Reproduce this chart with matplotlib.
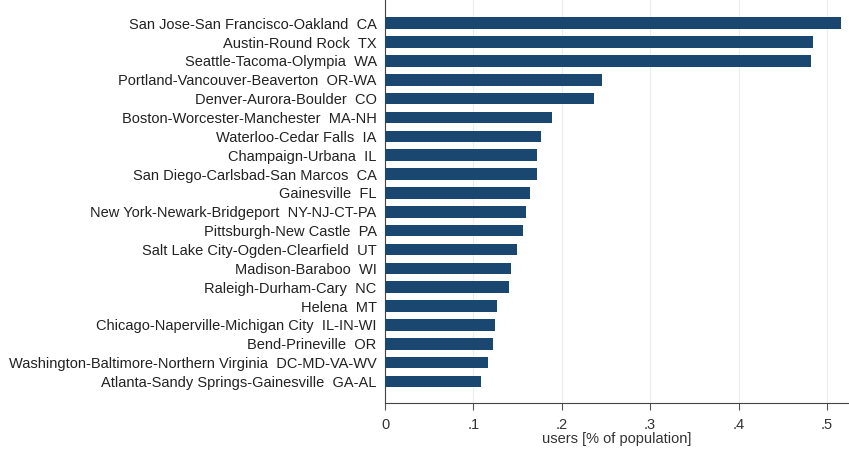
import matplotlib
matplotlib.use("Agg")
import matplotlib.pyplot as plt

regions = [
    "San Jose-San Francisco-Oakland  CA",
    "Austin-Round Rock  TX",
    "Seattle-Tacoma-Olympia  WA",
    "Portland-Vancouver-Beaverton  OR-WA",
    "Denver-Aurora-Boulder  CO",
    "Boston-Worcester-Manchester  MA-NH",
    "Waterloo-Cedar Falls  IA",
    "Champaign-Urbana  IL",
    "San Diego-Carlsbad-San Marcos  CA",
    "Gainesville  FL",
    "New York-Newark-Bridgeport  NY-NJ-CT-PA",
    "Pittsburgh-New Castle  PA",
    "Salt Lake City-Ogden-Clearfield  UT",
    "Madison-Baraboo  WI",
    "Raleigh-Durham-Cary  NC",
    "Helena  MT",
    "Chicago-Naperville-Michigan City  IL-IN-WI",
    "Bend-Prineville  OR",
    "Washington-Baltimore-Northern Virginia  DC-MD-VA-WV",
    "Atlanta-Sandy Springs-Gainesville  GA-AL",
]
users = [0.516, 0.484, 0.482, 0.245, 0.236, 0.189, 0.177, 0.1725, 0.172, 0.1645,
         0.159, 0.156, 0.1495, 0.142, 0.140, 0.1265, 0.125, 0.122, 0.116, 0.109]
xticks = [0, 0.1, 0.2, 0.3, 0.4, 0.5]
xticklabels = ["0", ".1", ".2", ".3", ".4", ".5"]

plt.rcParams['font.family'] = ['Liberation Sans', 'DejaVu Sans']

fig = plt.figure(figsize=(8.49, 4.5), dpi=100)
ax = fig.add_axes([385/849, 1 - 403/450, 1 - 385/849, 403/450])

ypos = list(range(len(regions)))
ax.barh(ypos, users, height=0.61, color="#1a476f", zorder=3)
ax.set_ylim(len(regions) - 1 + 1.14, -1.23)
ax.set_xlim(0, 0.525)
ax.set_yticks(ypos)
ax.set_yticklabels(regions, fontsize=10.5, color="#222222")
ax.tick_params(axis="y", length=0, pad=6)
ax.set_xticks(xticks)
ax.set_xticklabels(xticklabels, fontsize=10.5, color="#333333")
ax.tick_params(axis="x", length=5, width=0.8, color="#555555", pad=6)
ax.set_xlabel("users [% of population]", fontsize=10.5, color="#333333", labelpad=0)
ax.grid(axis="x", color="#ececec", linewidth=0.8, zorder=0)
for s in ["top", "right"]:
    ax.spines[s].set_visible(False)
for s in ["left", "bottom"]:
    ax.spines[s].set_color("#444444")
    ax.spines[s].set_linewidth(0.8)

fig.savefig("out.png", dpi=100)
